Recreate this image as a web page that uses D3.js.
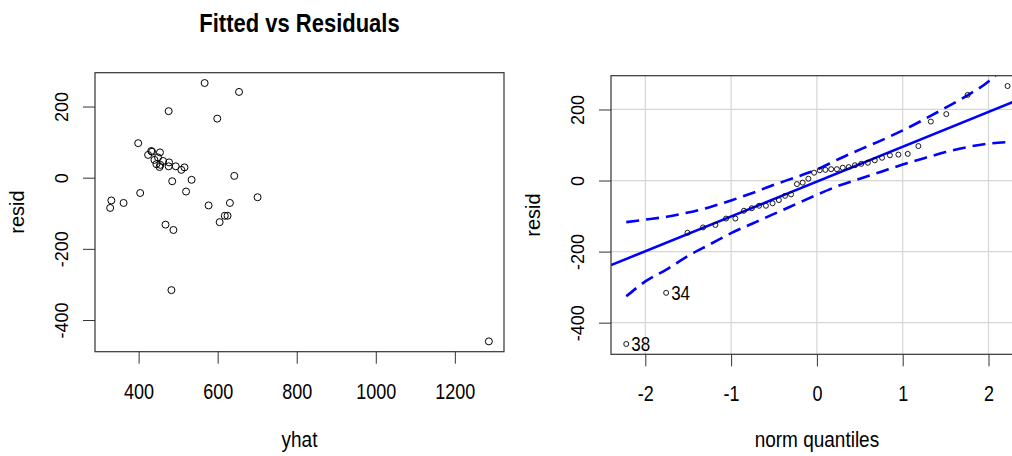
<!DOCTYPE html>
<html>
<head>
<meta charset="utf-8">
<script src="https://cdn.jsdelivr.net/npm/d3@7"></script>
<style>
  body { margin: 0; background: #fff; }
  text { font-family: Arial, "Liberation Sans", sans-serif; fill: #000; }
</style>
</head>
<body>
<div id="chart"></div>
<script>
// fitted values and residuals (obs 34 = index 33, obs 38 = index 37)
var yhat  = [567, 654, 476, 599, 399, 424, 432, 434, 454, 449, 445, 453, 477, 476, 494, 508, 516, 485, 534,
             642, 404, 520, 701, 331, 328, 362, 577, 631, 618, 625, 605, 468, 488, 483, 455, 462, 440, 1286];
var resid = [266, 241, 187, 166, 97, 64, 75, 73, 71, 57, 38, 30, 43, 32, 32, 22, 29, -10, -6,
             5, -43, -39, -55, -64, -85, -71, -78, -71, -107, -107, -125, -132, -147, -316, 36, 47, 50, -460];

// theoretical normal quantiles for 38 points
var normQ = [-2.222, -1.757, -1.508, -1.328, -1.183, -1.059, -0.950, -0.851, -0.759, -0.674,
             -0.594, -0.517, -0.443, -0.371, -0.301, -0.233, -0.166, -0.099, -0.033,
              0.033, 0.099, 0.166, 0.233, 0.301, 0.371, 0.443, 0.517, 0.594, 0.674,
              0.759, 0.851, 0.950, 1.059, 1.183, 1.328, 1.508, 1.757, 2.222];

// confidence envelope
var envQ     = [-2.222, -2.0, -1.75, -1.5, -1.25, -1.0, -0.75, -0.5, -0.25, 0, 0.25, 0.5, 0.75, 1.0, 1.25, 1.5, 1.75, 2.0, 2.222];
var envUpper = [-117, -110, -102, -90, -75, -56, -35, -12, 9, 31, 60, 87, 113, 141, 172, 205, 239, 279, 330];
var envLower = [-326, -284, -250, -212, -180, -148, -121, -94, -67, -40, -15, 5, 25, 45, 63, 80, 94, 104, 108];

// qq reference line
var qqIntercept = -3, qqSlope = 98;
var labelObs = [34, 38];

var xTicksL = [400, 600, 800, 1000, 1200];
var yTicks  = [-400, -200, 0, 200];
var xTicksR = [-2, -1, 0, 1, 2];

var W = 1012, H = 456;
var svg = d3.select('#chart').append('svg').attr('width', W).attr('height', H);

var boxL = {left: 95, right: 504, top: 72.7, bottom: 351.7};
var boxR = {left: 611, right: 1022.8, top: 75.7, bottom: 354.3};

// R style 4% padding
var padded = function(ext) {
  var d = (ext[1] - ext[0]) * 0.04;
  return [ext[0] - d, ext[1] + d];
};

var xL = d3.scaleLinear().domain(padded(d3.extent(yhat))).range([boxL.left, boxL.right]);
var yL = d3.scaleLinear().domain(padded(d3.extent(resid))).range([boxL.bottom, boxL.top]);
var xR = d3.scaleLinear().domain(padded(d3.extent(normQ))).range([boxR.left, boxR.right]);
var yR = d3.scaleLinear().domain(padded(d3.extent(resid))).range([boxR.bottom, boxR.top]);

var fmt = function(d) { return String(d); };

var drawAxes = function(box, x, y, xTicks) {
  var gx = svg.append('g').attr('transform', 'translate(0,' + box.bottom + ')')
    .call(d3.axisBottom(x).tickValues(xTicks).tickSize(12).tickSizeOuter(0).tickFormat(fmt));
  gx.attr('font-size', null).attr('font-family', null);
  gx.select('.domain').remove();
  gx.selectAll('.tick line').attr('stroke', '#333');
  gx.selectAll('.tick text')
    .attr('y', null).attr('dy', null)
    .attr('transform', 'translate(0,47) scale(1,1.2)')
    .style('font-size', '18px');

  var gy = svg.append('g').attr('transform', 'translate(' + box.left + ',0)')
    .call(d3.axisLeft(y).tickValues(yTicks).tickSize(12).tickSizeOuter(0).tickFormat(fmt));
  gy.attr('font-size', null).attr('font-family', null);
  gy.select('.domain').remove();
  gy.selectAll('.tick line').attr('stroke', '#333');
  gy.selectAll('.tick text')
    .attr('x', null).attr('dy', null)
    .attr('text-anchor', 'middle')
    .attr('transform', 'translate(-27,0) rotate(-90)')
    .style('font-size', '18px');
};

var drawBox = function(box) {
  svg.append('rect')
    .attr('x', box.left).attr('y', box.top)
    .attr('width', box.right - box.left).attr('height', box.bottom - box.top)
    .attr('fill', 'none').attr('stroke', '#333').attr('stroke-width', 1.2);
};

// ---- left panel: fitted vs residuals
svg.selectAll('circle.fit')
  .data(d3.range(yhat.length))
  .enter().append('circle')
  .attr('class', 'fit')
  .attr('cx', function(i) { return xL(yhat[i]); })
  .attr('cy', function(i) { return yL(resid[i]); })
  .attr('r', 3.5)
  .attr('fill', 'none')
  .attr('stroke', '#000')
  .attr('stroke-width', 1);

drawBox(boxL);
drawAxes(boxL, xL, yL, xTicksL);

svg.append('text')
  .attr('transform', 'translate(' + ((boxL.left + boxL.right) / 2) + ',32) scale(1,1.2)')
  .attr('text-anchor', 'middle')
  .style('font-size', '22px').style('font-weight', 'bold')
  .text('Fitted vs Residuals');

svg.append('text')
  .attr('transform', 'translate(' + ((boxL.left + boxL.right) / 2) + ',447) scale(1,1.2)')
  .attr('text-anchor', 'middle').style('font-size', '19px')
  .text('yhat');

svg.append('text')
  .attr('transform', 'translate(24,212) rotate(-90)')
  .attr('text-anchor', 'middle').style('font-size', '20px')
  .text('resid');

// ---- right panel: qq plot
svg.append('clipPath').attr('id', 'clipR')
  .append('rect')
  .attr('x', boxR.left).attr('y', boxR.top)
  .attr('width', boxR.right - boxR.left).attr('height', boxR.bottom - boxR.top);

var grid = svg.append('g').attr('clip-path', 'url(#clipR)');
grid.selectAll('line.gx').data(xTicksR).enter().append('line')
  .attr('x1', xR).attr('x2', xR)
  .attr('y1', boxR.top).attr('y2', boxR.bottom)
  .attr('stroke', '#d6d6d6').attr('stroke-width', 1.2);
grid.selectAll('line.gy').data(yTicks).enter().append('line')
  .attr('y1', yR).attr('y2', yR)
  .attr('x1', boxR.left).attr('x2', boxR.right)
  .attr('stroke', '#d6d6d6').attr('stroke-width', 1.2);

var plotR = svg.append('g').attr('clip-path', 'url(#clipR)');

var qd = xR.domain();
plotR.append('path')
  .datum(qd)
  .attr('d', d3.line()
    .x(function(q) { return xR(q); })
    .y(function(q) { return yR(qqIntercept + qqSlope * q); }))
  .attr('fill', 'none').attr('stroke', '#0000ff').attr('stroke-width', 2.6);

var envLine = function(vals) {
  return d3.line()
    .curve(d3.curveMonotoneX)
    .x(function(d, i) { return xR(envQ[i]); })
    .y(function(d) { return yR(d); })(vals);
};
[envUpper, envLower].forEach(function(vals) {
  plotR.append('path')
    .attr('d', envLine(vals))
    .attr('fill', 'none').attr('stroke', '#0000ff')
    .attr('stroke-width', 2.6).attr('stroke-dasharray', '13,7');
});

var order = d3.range(resid.length).sort(function(a, b) { return resid[a] - resid[b]; });

plotR.selectAll('circle.qq')
  .data(order)
  .enter().append('circle')
  .attr('class', 'qq')
  .attr('cx', function(idx, i) { return xR(normQ[i]); })
  .attr('cy', function(idx) { return yR(resid[idx]); })
  .attr('r', 2.5)
  .attr('fill', 'none').attr('stroke', '#000').attr('stroke-width', 0.9);

plotR.selectAll('text.lab')
  .data(order.map(function(idx, i) { return {obs: idx + 1, q: normQ[i], r: resid[idx]}; })
    .filter(function(d) { return labelObs.indexOf(d.obs) >= 0; }))
  .enter().append('text')
  .attr('class', 'lab')
  .attr('transform', function(d) { return 'translate(' + (xR(d.q) + 5) + ',' + (yR(d.r) + 7.5) + ') scale(1,1.2)'; })
  .style('font-size', '17px')
  .text(function(d) { return d.obs; });

drawBox(boxR);
drawAxes(boxR, xR, yR, xTicksR);

svg.append('text')
  .attr('transform', 'translate(' + ((boxR.left + boxR.right) / 2) + ',447) scale(1,1.2)')
  .attr('text-anchor', 'middle').style('font-size', '19px')
  .text('norm quantiles');

svg.append('text')
  .attr('transform', 'translate(540,215) rotate(-90)')
  .attr('text-anchor', 'middle').style('font-size', '20px')
  .text('resid');
</script>
</body>
</html>
